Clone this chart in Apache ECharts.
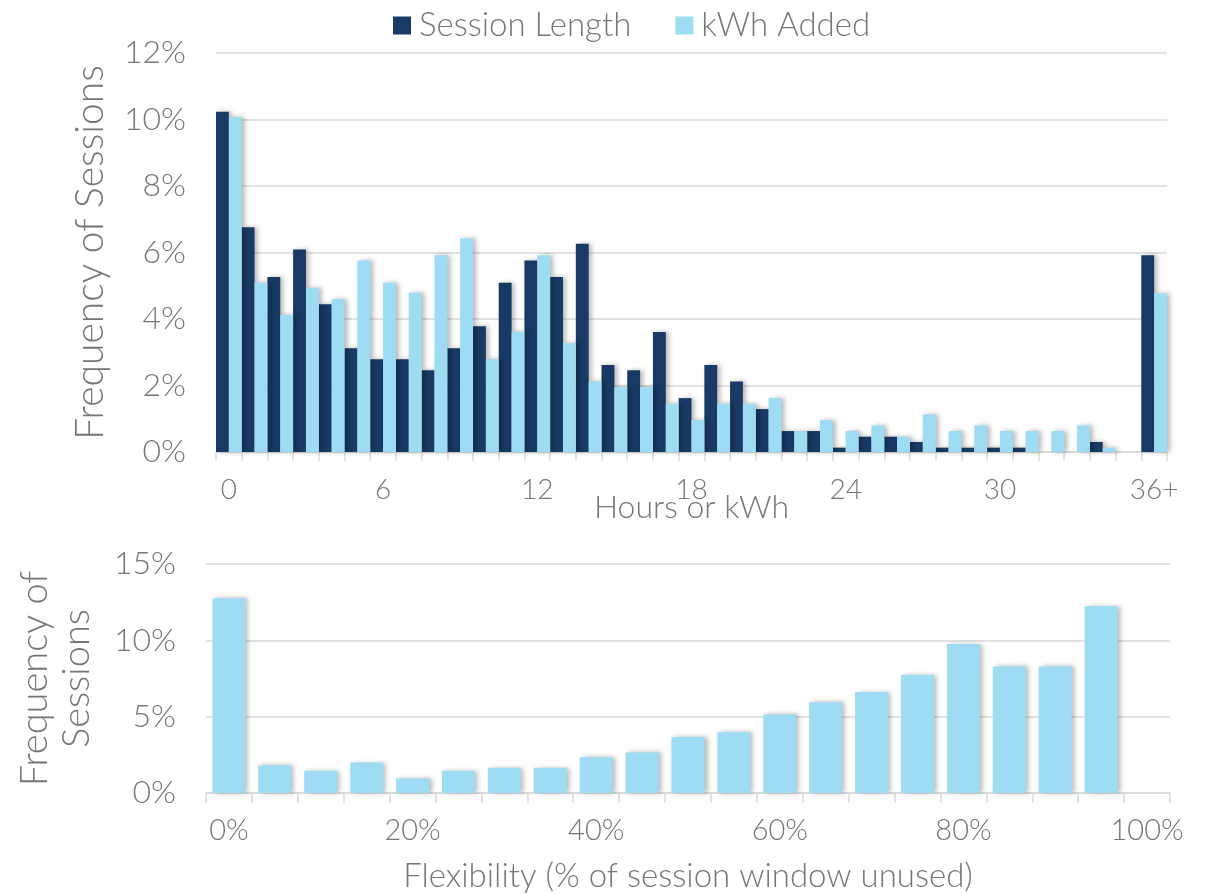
<!DOCTYPE html>
<html>
<head>
<meta charset="utf-8">
<script src="https://cdn.jsdelivr.net/npm/echarts@6/dist/echarts.min.js"></script>
<style>html,body{margin:0;padding:0;background:#fff}#c{width:1206px;height:894px}</style>
</head>
<body>
<div id="c"></div>
<script>
// ---- Data ----
const hourCategories = ['0','1','2','3','4','5','6','7','8','9','10','11','12','13','14','15','16','17','18','19','20','21','22','23','24','25','26','27','28','29','30','31','32','33','34','35','36+'];
const sessionLength = [10.23,6.76,5.26,6.09,4.44,3.12,2.79,2.79,2.46,3.12,3.78,5.09,5.76,5.26,6.26,2.62,2.46,3.61,1.62,2.62,2.12,1.29,0.63,0.63,0.13,0.46,0.46,0.30,0.13,0.13,0.13,0.13,0,0,0.30,0,5.92];
const kwhAdded = [10.07,5.09,4.12,4.94,4.60,5.76,5.09,4.79,5.92,6.43,2.79,3.62,5.92,3.28,2.12,1.95,1.95,1.45,0.96,1.45,1.45,1.62,0.63,0.96,0.63,0.80,0.46,1.13,0.63,0.80,0.63,0.63,0.63,0.80,0.13,0,4.77];
const flexCategories = ['0%','5%','10%','15%','20%','25%','30%','35%','40%','45%','50%','55%','60%','65%','70%','75%','80%','85%','90%','95%','100%'];
const flexibility = [12.75,1.82,1.45,1.99,0.95,1.45,1.65,1.65,2.34,2.66,3.66,3.98,5.15,5.95,6.62,7.75,9.76,8.29,8.29,12.25,null];

const FONT = 'Lato';
const TXT = '#767676';
const GRID = '#d9d9d9';
const DARK = '#183a64';
const LIGHT = '#9ddcf3';
const shadow = {shadowColor:'rgba(0,0,0,0.28)', shadowBlur:5, shadowOffsetX:3, shadowOffsetY:0};

const chart = echarts.init(document.getElementById('c'), null, {renderer:'canvas'});
chart.setOption({
  animation:false,
  backgroundColor:'#fff',
  textStyle:{fontFamily:FONT, color:TXT},
  legend:{
    top:4, left:388, itemWidth:18, itemHeight:18, itemGap:44,
    icon:'rect',
    textStyle:{fontFamily:FONT, fontSize:33, color:TXT, fontWeight:300, padding:[0,0,0,3]},
    data:['Session Length','kWh Added']
  },
  grid:[
    {left:216, right:39, top:53, bottom:442},
    {left:206, right:36, top:564, bottom:99}
  ],
  xAxis:[
    {
      gridIndex:0, type:'category', data:hourCategories,
      axisLine:{lineStyle:{color:GRID, width:1.5}},
      axisTick:{show:true, interval:0, length:9, lineStyle:{color:GRID, width:1.5}},
      axisLabel:{interval:5, margin:24, fontFamily:FONT, fontSize:28, color:TXT, fontWeight:300},
      name:'Hours or kWh', nameLocation:'middle', nameGap:40, nameMoveOverlap:false,
      nameTextStyle:{fontFamily:FONT, fontSize:32, color:TXT, fontWeight:300}
    },
    {
      gridIndex:1, type:'category', data:flexCategories,
      axisLine:{lineStyle:{color:GRID, width:1.5}},
      axisTick:{show:true, interval:0, length:10, lineStyle:{color:GRID, width:1.5}},
      axisLabel:{interval:3, margin:23, fontFamily:FONT, fontSize:29, color:TXT, fontWeight:300},
      name:'Flexibility (% of session window unused)', nameLocation:'middle', nameGap:67, nameMoveOverlap:false,
      nameTextStyle:{fontFamily:FONT, fontSize:33, color:TXT, fontWeight:300}
    }
  ],
  yAxis:[
    {
      gridIndex:0, type:'value', min:0, max:12, interval:2,
      axisLine:{show:false}, axisTick:{show:false},
      splitLine:{lineStyle:{color:GRID, width:1.5}},
      axisLabel:{formatter:'{value}%', margin:30, fontFamily:FONT, fontSize:32, color:TXT, fontWeight:300},
      name:'Frequency of Sessions', nameLocation:'middle', nameGap:106, nameMoveOverlap:false,
      nameTextStyle:{fontFamily:FONT, fontSize:39, color:TXT, fontWeight:300}
    },
    {
      gridIndex:1, type:'value', min:0, max:15, interval:5,
      axisLine:{show:false}, axisTick:{show:false},
      splitLine:{lineStyle:{color:GRID, width:1.5}},
      axisLabel:{formatter:'{value}%', margin:30, fontFamily:FONT, fontSize:32, color:TXT, fontWeight:300},
      name:'Frequency of\nSessions', nameLocation:'middle', nameGap:108, nameMoveOverlap:false,
      nameTextStyle:{fontFamily:FONT, fontSize:38, color:TXT, fontWeight:300, lineHeight:42}
    }
  ],
  series:[
    {name:'Session Length', type:'bar', xAxisIndex:0, yAxisIndex:0, data:sessionLength,
     barGap:'0%', barCategoryGap:'0%', itemStyle:Object.assign({color:DARK}, shadow)},
    {name:'kWh Added', type:'bar', xAxisIndex:0, yAxisIndex:0, data:kwhAdded,
     barGap:'0%', barCategoryGap:'0%', itemStyle:Object.assign({color:LIGHT}, shadow)},
    {name:'Flexibility', type:'bar', xAxisIndex:1, yAxisIndex:1, data:flexibility,
     barCategoryGap:'28%', itemStyle:Object.assign({color:LIGHT}, shadow)}
  ]
});
</script>
</body>
</html>
